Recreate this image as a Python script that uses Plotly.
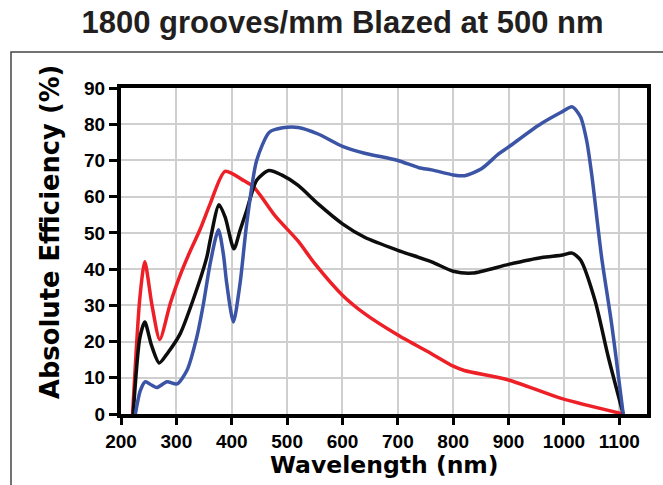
import plotly.graph_objects as go

# Wavelength (nm) and absolute efficiency (%)
red_wl = [221, 234, 243, 256, 270, 289, 306, 325, 343, 361, 388, 421, 440, 480, 520, 550, 600, 640, 700, 760, 800, 820, 900, 995, 1107]
red_eff = [0, 32, 42, 30, 20.6, 30.5, 38, 45, 51, 58, 67, 64.5, 62.6, 54.4, 47.7, 41.5, 32.8, 27.7, 21.8, 16.7, 13.2, 12, 9.4, 4.3, 0]

black_wl = [222, 234, 243, 255, 269, 285, 307, 330, 355, 361, 377, 388, 404, 415, 427, 445, 467, 490, 520, 556, 600, 640, 700, 761, 800, 835, 900, 960, 995, 1015, 1030, 1056, 1080, 1107]
black_eff = [0, 21, 25.4, 19, 14.1, 17, 22.2, 31.4, 43.3, 47.9, 57.8, 54.4, 45.6, 50.7, 56.2, 64.5, 67.2, 66, 63.1, 58, 52.5, 48.8, 45.2, 42, 39.4, 38.9, 41.3, 43.2, 43.8, 44.4, 42.5, 31.4, 15.8, 0]

blue_wl = [226, 235, 244, 255, 265, 283, 301, 319, 337, 349, 361, 376, 385, 391, 403, 415, 427, 445, 468, 492, 520, 556, 600, 640, 700, 738, 761, 800, 821, 851, 882, 899, 953, 995, 1015, 1030, 1041, 1050, 1068, 1086, 1107]
blue_eff = [0, 6.5, 8.9, 8, 7.3, 8.9, 8.3, 12, 21.3, 30.5, 41.5, 50.9, 44, 36, 25.4, 36, 52.5, 70, 77.8, 79, 79.1, 77.3, 73.9, 72, 70, 68, 67.4, 66, 65.8, 67.7, 71.8, 73.6, 79.6, 83.3, 84.8, 82, 75.5, 66.3, 43.3, 25, 0]

x_ticks = [200, 300, 400, 500, 600, 700, 800, 900, 1000, 1100]
y_ticks = [0, 10, 20, 30, 40, 50, 60, 70, 80, 90]

title_text = "1800 grooves/mm Blazed at 500 nm"
x_title = "Wavelength (nm)"
y_title = "Absolute Efficiency (%)"

fig = go.Figure()
for wl, eff, col in [(red_wl, red_eff, "#ee2027"), (black_wl, black_eff, "#0d0d0d"), (blue_wl, blue_eff, "#3b54a5")]:
    fig.add_trace(go.Scatter(x=wl, y=eff, mode="lines",
                             line=dict(color=col, width=3.5, shape="spline", smoothing=0.7),
                             showlegend=False, hoverinfo="skip"))

axis_common = dict(
    showline=True, linecolor="black", linewidth=4, mirror=True,
    ticks="outside", tickcolor="black", tickwidth=3,
    showgrid=True, gridcolor="#cfcfcf", gridwidth=2,
    zeroline=False,
    tickfont=dict(family="Liberation Sans, Arial, sans-serif", size=19, color="black", weight="bold"),
)

fig.update_xaxes(range=[200, 1150], tickvals=x_ticks, ticktext=[str(v) for v in x_ticks], ticklen=7, **axis_common)
fig.update_yaxes(range=[0, 90], tickvals=y_ticks, ticktext=[str(v) for v in y_ticks], ticklen=8, **axis_common)

fig.update_layout(
    width=663, height=485, autosize=False,
    margin=dict(l=121, r=16, t=88, b=71),
    paper_bgcolor="white", plot_bgcolor="white",
    title=dict(text=title_text, x=342.5 / 663, xref="container", xanchor="center",
               y=1 - 22 / 485, yref="container", yanchor="middle",
               font=dict(family="Liberation Sans, Arial, sans-serif", size=31, color="#231f20", weight="bold")),
    annotations=[
        dict(text=x_title, xref="paper", yref="paper", x=0.5, y=-0.156, xanchor="center", yanchor="middle",
             showarrow=False, font=dict(family="DejaVu Sans, sans-serif", size=23.5, color="black", weight="bold")),
        dict(text=y_title, xref="paper", yref="paper", x=-0.135, y=0.558, xanchor="center", yanchor="middle",
             textangle=-90, showarrow=False,
             font=dict(family="DejaVu Sans, sans-serif", size=25.8, color="black", weight="bold")),
    ],
    shapes=[
        dict(type="rect", xref="paper", yref="paper", x0=(11 - 121) / 526, x1=(680 - 121) / 526,
             y0=(414 - 500) / 326, y1=(414 - 52) / 326, line=dict(color="#444444", width=1.5), layer="below"),
    ],
)

fig.write_html("out.html")
